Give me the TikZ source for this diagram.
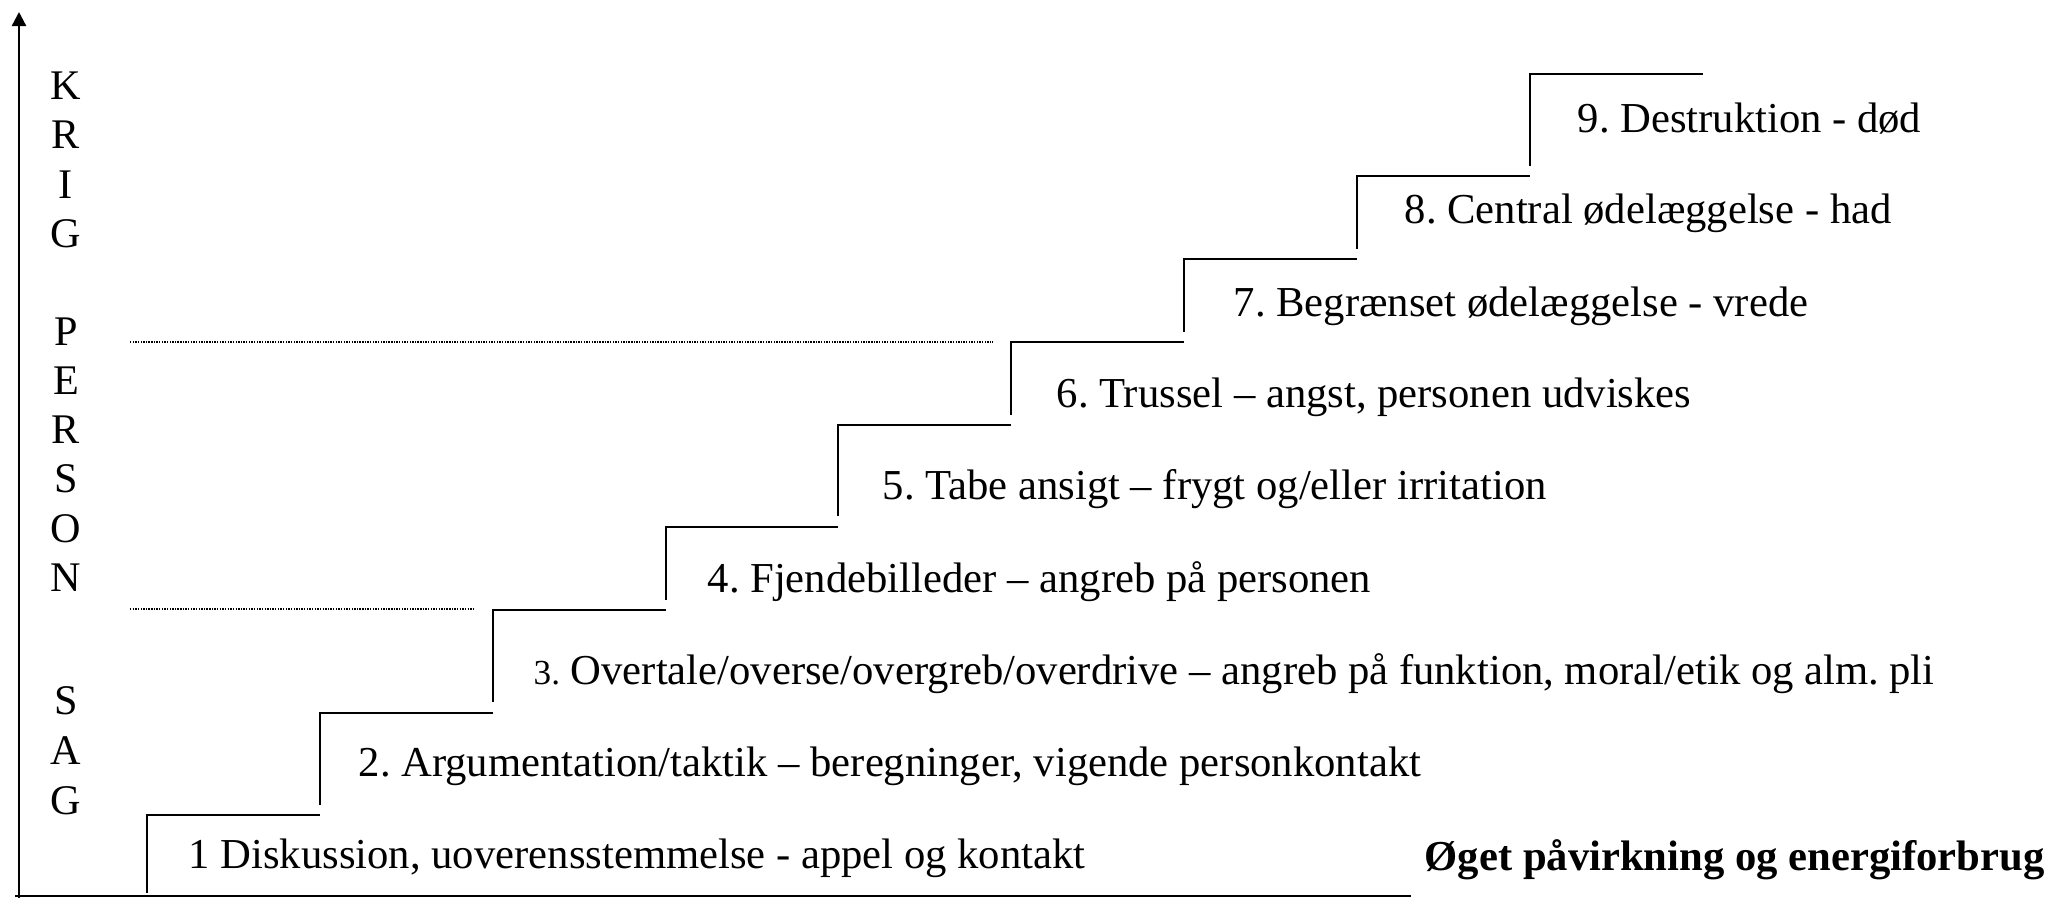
\documentclass[tikz,border=0pt]{standalone}
\usepackage{fontspec}
\setmainfont{Liberation Serif}
\frenchspacing
\usetikzlibrary{arrows.meta}

\tikzset{
  stair/.style={line width=0.65pt},
  guide/.style={line width=0.5pt, dash pattern=on 0.4pt off 0.35pt},
  level-text/.style={anchor=base west, inner sep=0pt, font=\fontsize{12.13}{14}\selectfont},
  side-letter/.style={anchor=base, inner sep=0pt, font=\fontsize{12}{14}\selectfont}
}

\begin{document}
\begin{tikzpicture}[x=0.01cm, y=-0.01cm]
\useasboundingbox (0,0) rectangle (2054,898);

% axes
\draw[stair, -{Triangle[width=4pt, length=4pt]}] (19,898) -- (19,12);
\draw[stair] (15,896) -- (1411,896);

% staircase
\foreach \xa/\xb/\ya/\yb in {147/320/897/815, 320/493/809/713, 493/666/706/610,
  666/838/604/527, 838/1011/520/425, 1011/1184/419/342, 1184/1357/336/259,
  1357/1530/253/176, 1530/1703/170/74}
  \draw[stair] (\xa,\ya-4) |- (\xb,\yb);

% dotted guides
\draw[guide] (130,342) -- (993,342);
\draw[guide] (130,609) -- (474,609);

% side labels
\foreach \ch/\y [count=\i] in {K/100, R/149, I/199, G/248}
  \node[side-letter] (krig-\i) at (66,\y) {\ch};
\foreach \ch/\y [count=\i] in {P/346, E/395, R/444, S/493, O/543, N/592}
  \node[side-letter] (person-\i) at (66,\y) {\ch};
\foreach \ch/\y [count=\i] in {S/715, A/765, G/815}
  \node[side-letter] (sag-\i) at (66,\y) {\ch};

% step texts
\node[level-text] (lvl-1) at (188,869) {1 Diskussion, uoverensstemmelse - appel og kontakt};
\node[level-text] (lvl-2) at (358,777) {2. Argumentation/taktik – beregninger, vigende personkontakt};
\node[level-text] (lvl-3) at (533,685) {{\fontsize{10}{12}\selectfont 3.} Overtale/overse/overgreb/overdrive – angreb på funktion, moral/etik og alm. pli};
\node[level-text] (lvl-4) at (707,593) {4. Fjendebilleder – angreb på personen};
\node[level-text] (lvl-5) at (882,500) {5. Tabe ansigt – frygt og/eller irritation};
\node[level-text] (lvl-6) at (1056,408) {6. Trussel – angst, personen udviskes};
\node[level-text] (lvl-7) at (1233,317) {7. Begrænset ødelæggelse - vrede};
\node[level-text] (lvl-8) at (1404,224) {8. Central ødelæggelse - had};
\node[level-text] (lvl-9) at (1577,133) {9. Destruktion - død};

\node[level-text, font=\fontsize{12.13}{14}\selectfont\bfseries] (x-label) at (1424,871) {Øget påvirkning og energiforbrug};
\end{tikzpicture}
\end{document}
